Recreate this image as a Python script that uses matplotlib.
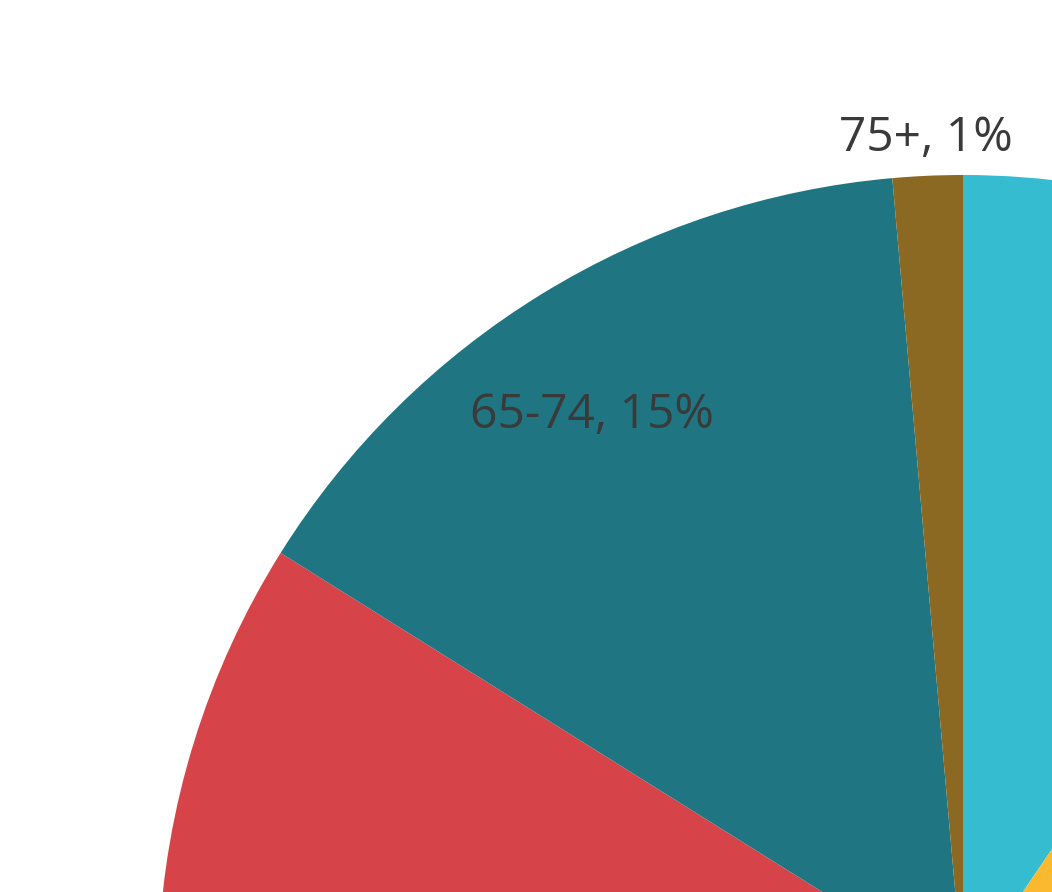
import numpy as np
import matplotlib.pyplot as plt

plt.rcParams['font.family'] = ['Open Sans', 'DejaVu Sans']

# age groups, clockwise from 12 o'clock
groups = ['18-24', '25-34', '35-44', '45-54', '55-64', '65-74', '75+']
shares = [9.5, 19.0, 20.0, 19.0, 16.4, 14.7, 1.4]
labels = ['18-24, 10%', '25-34, 19%', '35-44, 20%', '45-54, 19%', '55-64, 16%', '65-74, 15%', '75+, 1%']
colors = ['#35bcd0', '#fbb92f', '#7cb342', '#5c6bc0', '#d64449', '#1f7581', '#8b6923']
# only these labels fall inside the visible crop
shown = ['65-74', '75+']

W, H = 1052, 892
fig = plt.figure(figsize=(W / 100, H / 100), dpi=100)
ax = fig.add_axes([0, 0, 1, 1])

cx, cy, R = 963, H - 980, 805
wedges, _ = ax.pie(shares, colors=colors, startangle=90, counterclock=False,
                   center=(cx, cy), radius=R,
                   wedgeprops=dict(linewidth=0))

for w, g, lab, share in zip(wedges, groups, labels, shares):
    if g not in shown:
        continue
    if share < 5:
        mid = np.deg2rad((w.theta1 + w.theta2) / 2)
        dist = 1.047
    else:
        mid = np.deg2rad((w.theta1 + w.theta2) / 2 + 1.8)
        dist = 0.84
    ax.text(cx + dist * R * np.cos(mid), cy + dist * R * np.sin(mid), lab,
            ha='center', va='center', fontsize=34.5, color='#3a3a3a')

ax.set_xlim(0, W)
ax.set_ylim(0, H)
ax.set_aspect('auto')
ax.axis('off')

plt.savefig('out.png', dpi=100)
